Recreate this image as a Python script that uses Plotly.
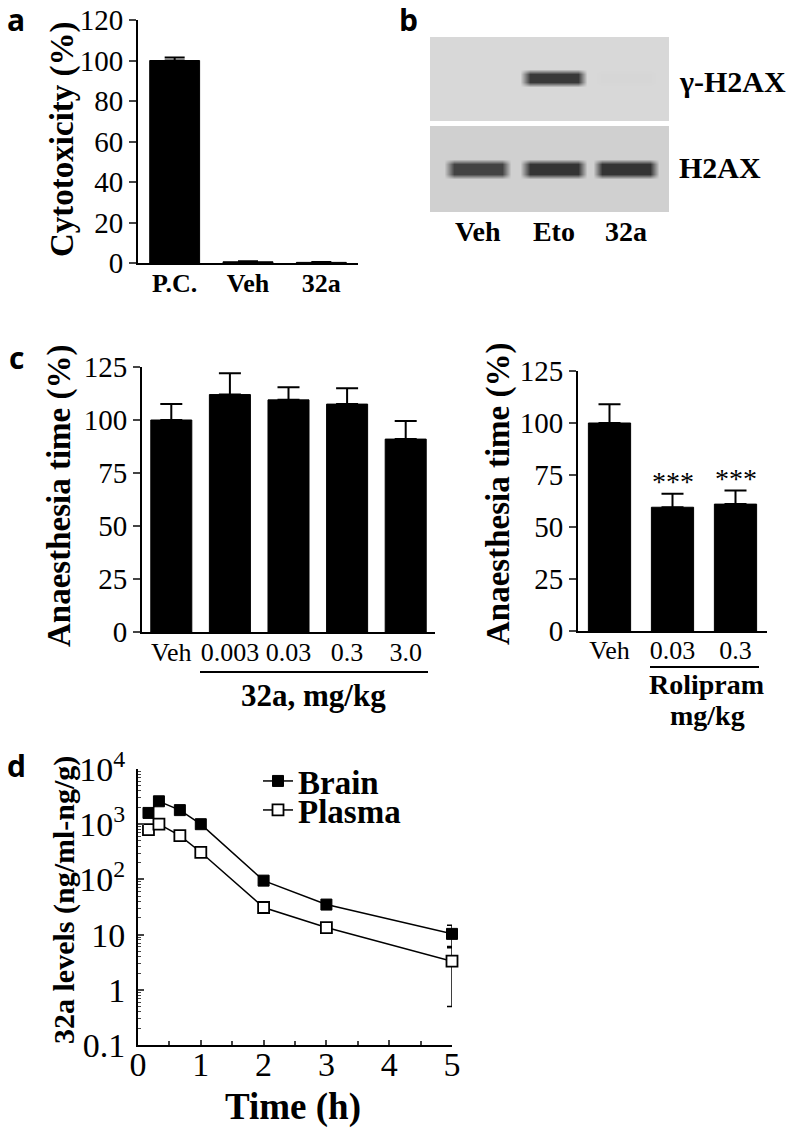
import plotly.graph_objects as go

W, H = 787, 1131
SERIF = "Liberation Serif"
SANS = "Open Sans"


def px(x):
    return x / W


def py(y):
    return 1 - y / H


# ---------------- data ----------------
a_categories = ["P.C.", "Veh", "32a"]
a_values = [100, 0.6, 0.3]
a_errors = [1.5, 0.3, 0.2]
a_yticks = [0, 20, 40, 60, 80, 100, 120]

b_lanes = ["Veh", "Eto", "32a"]
b_gamma_h2ax = [0.04, 0.85, 0.05]
b_h2ax = [0.80, 0.88, 0.88]

c1_categories = ["Veh", "0.003", "0.03", "0.3", "3.0"]
c1_values = [100, 112, 109.5, 107.5, 91]
c1_errors = [7.5, 10, 6, 7.5, 8.5]

c2_categories = ["Veh", "0.03", "0.3"]
c2_values = [100, 59.5, 61]
c2_errors = [9, 6.5, 6.5]
c2_marks = ["", "***", "***"]
c_yticks = [0, 25, 50, 75, 100, 125]

d_time = [1 / 6, 1 / 3, 2 / 3, 1, 2, 3, 5]
d_brain = [1600, 2600, 1800, 1000, 95, 35, 10.3]
d_brain_err = [150, 250, 150, 80, 8, 5, 4.5]
d_plasma = [800, 1000, 620, 310, 31, 13.4, 3.3]
d_plasma_err = [80, 120, 60, 30, 3, 1.5, 2.8]
d_xticks = [0, 1, 2, 3, 4, 5]
d_yticks = [0.1, 1, 10, 100, 1000, 10000]
d_yticklabels = ["0.1", "1", "10", "10<sup>2</sup>", "10<sup>3</sup>", "10<sup>4</sup>"]

# ---------------- layout constants ----------------
lane_pos = [0.6, 1.555, 2.46]
HALF_IN, HALF_OUT = 0.30, 0.42


def blot_grid(intensities, bg, center, half_in, half_out):
    xs = [0.0]
    band = [bg]
    for c, v in zip(lane_pos, intensities):
        xs += [c - HALF_OUT, c - HALF_IN, c + HALF_IN, c + HALF_OUT]
        band += [bg, v, v, bg]
    xs.append(3.0)
    band.append(bg)
    back = [bg] * len(xs)
    ys = [0.0, center - half_out, center - half_in, center + half_in, center + half_out, 1.0]
    z = [back, back, band, band, back, back]
    return xs, ys, z


BLOT_SCALE = [[0, "rgb(224,224,224)"], [1, "rgb(28,28,28)"]]


def tfont(size, bold=False):
    d = dict(family=SERIF, size=size, color="black")
    if bold:
        d["weight"] = "bold"
    return d


fig = go.Figure()

# ---- panel a ----
fig.add_trace(go.Bar(
    x=a_categories, y=a_values, width=0.68,
    marker=dict(color="black", line=dict(color="black", width=1)),
    error_y=dict(type="data", symmetric=False, array=a_errors, arrayminus=[0] * len(a_errors),
                 color="black", thickness=2, width=10),
    xaxis="x", yaxis="y", showlegend=False))

# ---- panel b (blots) ----
gx, gy, gz = blot_grid(b_gamma_h2ax, 0.04, 0.512, 0.05, 0.11)
fig.add_trace(go.Heatmap(x=gx, y=gy, z=gz, zsmooth="best", colorscale=BLOT_SCALE,
                         zmin=0, zmax=1, showscale=False, hoverinfo="skip",
                         xaxis="x2", yaxis="y2"))
hx, hy, hz = blot_grid(b_h2ax, 0.08, 0.50, 0.055, 0.115)
fig.add_trace(go.Heatmap(x=hx, y=hy, z=hz, zsmooth="best", colorscale=BLOT_SCALE,
                         zmin=0, zmax=1, showscale=False, hoverinfo="skip",
                         xaxis="x3", yaxis="y3"))

# ---- panel c left ----
fig.add_trace(go.Bar(
    x=c1_categories, y=c1_values, width=0.7,
    marker=dict(color="black", line=dict(color="black", width=1)),
    error_y=dict(type="data", symmetric=False, array=c1_errors, arrayminus=[0] * len(c1_errors),
                 color="black", thickness=2, width=11),
    xaxis="x4", yaxis="y4", showlegend=False))

# ---- panel c right ----
fig.add_trace(go.Bar(
    x=c2_categories, y=c2_values, width=0.67,
    marker=dict(color="black", line=dict(color="black", width=1)),
    error_y=dict(type="data", symmetric=False, array=c2_errors, arrayminus=[0] * len(c2_errors),
                 color="black", thickness=2, width=11),
    xaxis="x5", yaxis="y5", showlegend=False))

# ---- panel d ----
fig.add_trace(go.Scatter(
    x=d_time, y=d_brain, name="Brain", mode="lines+markers",
    line=dict(color="black", width=1.5),
    marker=dict(symbol="square", size=11, color="black", line=dict(color="black", width=1)),
    error_y=dict(type="data", array=d_brain_err, color="black", thickness=1.5, width=5),
    xaxis="x6", yaxis="y6", legend="legend", cliponaxis=False))
fig.add_trace(go.Scatter(
    x=d_time, y=d_plasma, name="Plasma", mode="lines+markers",
    line=dict(color="black", width=1.5),
    marker=dict(symbol="square", size=11, color="white", line=dict(color="black", width=1.8)),
    error_y=dict(type="data", array=d_plasma_err, color="black", thickness=1.5, width=5),
    xaxis="x6", yaxis="y6", legend="legend2", cliponaxis=False))


def ax(**kw):
    base = dict(showgrid=False, zeroline=False, showline=True, linecolor="black", linewidth=2,
                automargin=False)
    base.update(kw)
    return base


def blank_ax(**kw):
    base = dict(showgrid=False, zeroline=False, showline=False, automargin=False)
    base.update(kw)
    return base


fig.update_layout(
    width=W, height=H, margin=dict(l=0, r=0, t=0, b=0, pad=0, autoexpand=False),
    paper_bgcolor="white", plot_bgcolor="white",
    font=dict(family=SERIF, size=28, color="black"),
    # panel a
    xaxis=ax(domain=[px(138), px(358)], anchor="y", type="category", ticks="",
             tickfont=tfont(26, True), ticklabelstandoff=-4),
    yaxis=ax(domain=[py(263), py(20)], anchor="x", range=[0, 120], tickvals=a_yticks,
             ticks="outside", ticklen=7, tickwidth=2, tickfont=tfont(29)),
    # panel b
    xaxis2=blank_ax(domain=[px(430), px(669)], anchor="y2", range=[0, 3], showticklabels=False),
    yaxis2=blank_ax(domain=[py(121), py(37)], anchor="x2", range=[0, 1], showticklabels=False),
    xaxis3=blank_ax(domain=[px(430), px(669)], anchor="y3", range=[0, 3], tickvals=lane_pos,
                    ticktext=b_lanes, tickfont=tfont(28, True), ticks=""),
    yaxis3=blank_ax(domain=[py(212), py(126)], anchor="x3", range=[0, 1], showticklabels=False),
    # panel c left
    xaxis4=ax(domain=[px(142), px(435)], anchor="y4", type="category", ticks="",
              tickfont=tfont(26), ticklabelstandoff=-4),
    yaxis4=ax(domain=[py(632), py(367)], anchor="x4", range=[0, 125], tickvals=c_yticks,
              ticks="outside", ticklen=7, tickwidth=2, tickfont=tfont(29)),
    # panel c right
    xaxis5=ax(domain=[px(578), px(767)], anchor="y5", type="category", ticks="",
              tickfont=tfont(26), ticklabelstandoff=-5),
    yaxis5=ax(domain=[py(631), py(371)], anchor="x5", range=[0, 125], tickvals=c_yticks,
              ticks="outside", ticklen=7, tickwidth=2, tickfont=tfont(29)),
    # panel d
    xaxis6=ax(domain=[px(138), px(452)], anchor="y6", range=[0, 5], tickvals=d_xticks,
              ticks="inside", ticklen=5, tickwidth=1.5, tickfont=tfont(34), ticklabelstandoff=-12,
              minor=dict(ticks="inside", ticklen=4, tickwidth=1.5, dtick=0.5, tick0=0)),
    yaxis6=ax(domain=[py(1045), py(769)], anchor="x6", type="log", range=[-1, 4],
              tickvals=d_yticks, ticktext=d_yticklabels, ticks="inside", ticklen=6, tickwidth=1.5,
              tickfont=tfont(34), ticklabelstandoff=4,
              minor=dict(ticks="inside", ticklen=3, tickwidth=1, dtick="D1")),
    legend=dict(x=px(258), y=py(781), xanchor="left", yanchor="middle", bgcolor="rgba(0,0,0,0)",
                font=tfont(33, True), itemwidth=30),
    legend2=dict(x=px(258), y=py(810), xanchor="left", yanchor="middle", bgcolor="rgba(0,0,0,0)",
                 font=tfont(33, True), itemwidth=30),
)

ann = []


def text(s, x, y, size, bold=True, family=SERIF, angle=0, xanchor="center"):
    ann.append(dict(text=s, x=px(x), y=py(y), xref="paper", yref="paper", showarrow=False,
                    xanchor=xanchor, yanchor="middle", textangle=angle,
                    font=dict(family=family, size=size, color="black",
                              weight="bold" if bold else "normal")))


# significance marks above the Rolipram bars (anchored to the data; category index on x)
for i, (v, e, mark) in enumerate(zip(c2_values, c2_errors, c2_marks)):
    if mark:
        ann.append(dict(text=mark, x=i, y=v + e, xref="x5", yref="y5", showarrow=False,
                        xanchor="center", yanchor="bottom", yshift=-5,
                        font=tfont(28)))

# panel letters
text("a", 16, 20, 30, family=SANS)
text("b", 408, 20, 30, family=SANS)
text("c", 16, 357, 30, family=SANS)
text("d", 16, 765, 30, family=SANS)
# axis titles
text("Cytotoxicity (%)", 62, 139, 33, angle=-90)
text("Anaesthesia time (%)", 60, 496, 33, angle=-90)
text("Anaesthesia time (%)", 498, 494, 33, angle=-90)
text("32a levels (ng/ml-ng/g)", 64, 900, 30, angle=-90)
text("Time (h)", 293, 1107, 37)
text("32a, mg/kg", 313, 695, 31)
text("Rolipram", 706, 684, 28)
text("mg/kg", 707, 715, 28)
# blot labels
text("γ-H2AX", 677, 82, 30, xanchor="left")
text("H2AX", 677, 167, 30, xanchor="left")

fig.update_layout(annotations=ann)

fig.update_layout(shapes=[
    dict(type="line", xref="paper", yref="paper", x0=px(200), x1=px(428), y0=py(672), y1=py(672),
         line=dict(color="black", width=2)),
    dict(type="line", xref="paper", yref="paper", x0=px(650), x1=px(759), y0=py(667), y1=py(667),
         line=dict(color="black", width=2)),
])

fig.write_html("out.html", config={"displayModeBar": False},
               post_script="document.body.style.margin='0px';document.body.style.overflow='hidden';")
